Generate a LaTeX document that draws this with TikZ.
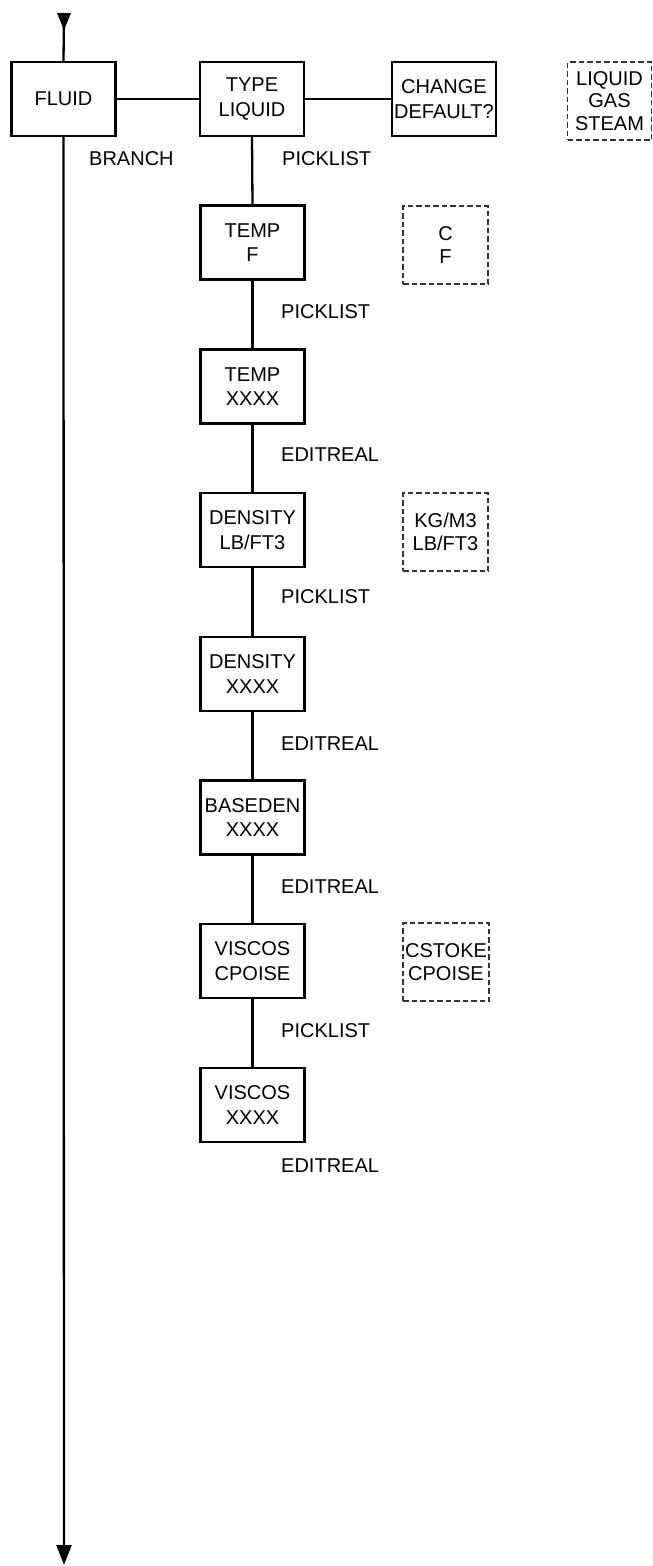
\documentclass[tikz,border=0pt]{standalone}
\usepackage{fontspec}
\setmainfont{Liberation Sans}
\usetikzlibrary{arrows.meta}
\tikzset{
  x=1pt, y=1pt,
  menubox/.style={draw, line width=2.3pt, minimum width=104pt, minimum height=74pt, inner sep=0pt, align=center, font=\fontsize{20}{24.5}\selectfont},
  optbox/.style={draw=black!80, line width=1.3pt, dash pattern=on 5.5pt off 3pt, inner sep=0pt, align=center, font=\fontsize{20}{22.5}\selectfont},
  conn/.style={line width=2.3pt},
  lbl/.style={anchor=base west, inner sep=0pt, font=\fontsize{20}{24}\selectfont},
}
\begin{document}
\begin{tikzpicture}
\useasboundingbox (0,0) rectangle (653,-1566);
% main column
\node[menubox] (fluid) at (63.5,-99) {FLUID};
\node[menubox] (type) at (252,-99) {TYPE\\LIQUID};
\node[menubox] (chg) at (444,-99) {CHANGE\\DEFAULT?};
\node[optbox, minimum width=84pt, minimum height=78pt] (optfluid) at (609.5,-101) {LIQUID\\GAS\\STEAM};

\node[menubox] (tempf) at (252.5,-242.5) {TEMP\\F};
\node[optbox, minimum width=85pt, minimum height=78pt] (opttemp) at (445.5,-245) {C\\F};
\node[menubox] (tempx) at (252.5,-386.5) {TEMP\\XXXX};
\node[menubox] (denu) at (252.5,-530) {DENSITY\\LB/FT3};
\node[optbox, minimum width=85pt, minimum height=78pt] (optden) at (445.5,-532) {KG/M3\\LB/FT3};
\node[menubox] (denx) at (252.5,-674) {DENSITY\\XXXX};
\node[menubox] (base) at (252.5,-817.5) {BASEDEN\\XXXX};
\node[menubox] (visu) at (252.5,-961) {VISCOS\\CPOISE};
\node[optbox, minimum width=86pt, minimum height=78pt] (optvis) at (446,-962) {CSTOKE\\CPOISE};
\node[menubox] (visx) at (252.5,-1105) {VISCOS\\XXXX};

% connectors
\coordinate (topin) at (64,-13);
\coordinate (botout) at (64,-1565);
\draw[conn] (topin) -- (fluid.north);
\fill (topin) ++(-7,0) -- ++(14,0) -- ++(-7,-17) -- cycle;
\draw[conn, -{Triangle[length=20pt,width=15pt]}] (fluid.south) -- (botout);
\draw[conn] (fluid.east) -- (type.west);
\draw[conn] (type.east) -- (chg.west);
\draw[conn] (type.south) -- (tempf.north);
\draw[conn] (tempf.south) -- (tempx.north);
\draw[conn] (tempx.south) -- (denu.north);
\draw[conn] (denu.south) -- (denx.north);
\draw[conn] (denx.south) -- (base.north);
\draw[conn] (base.south) -- (visu.north);
\draw[conn] (visu.south) -- (visx.north);

% labels
\node[lbl] (l0) at (89,-165.2) {BRANCH};
\node[lbl] (l1) at (282,-165.2) {PICKLIST};
\node[lbl] (l2) at (281,-318.7) {PICKLIST};
\node[lbl] (l3) at (281,-461.7) {EDITREAL};
\node[lbl] (l4) at (281,-603.2) {PICKLIST};
\node[lbl] (l5) at (281,-750.2) {EDITREAL};
\node[lbl] (l6) at (281,-893.7) {EDITREAL};
\node[lbl] (l7) at (281,-1037.7) {PICKLIST};
\node[lbl] (l8) at (281,-1172.7) {EDITREAL};
\end{tikzpicture}
\end{document}
